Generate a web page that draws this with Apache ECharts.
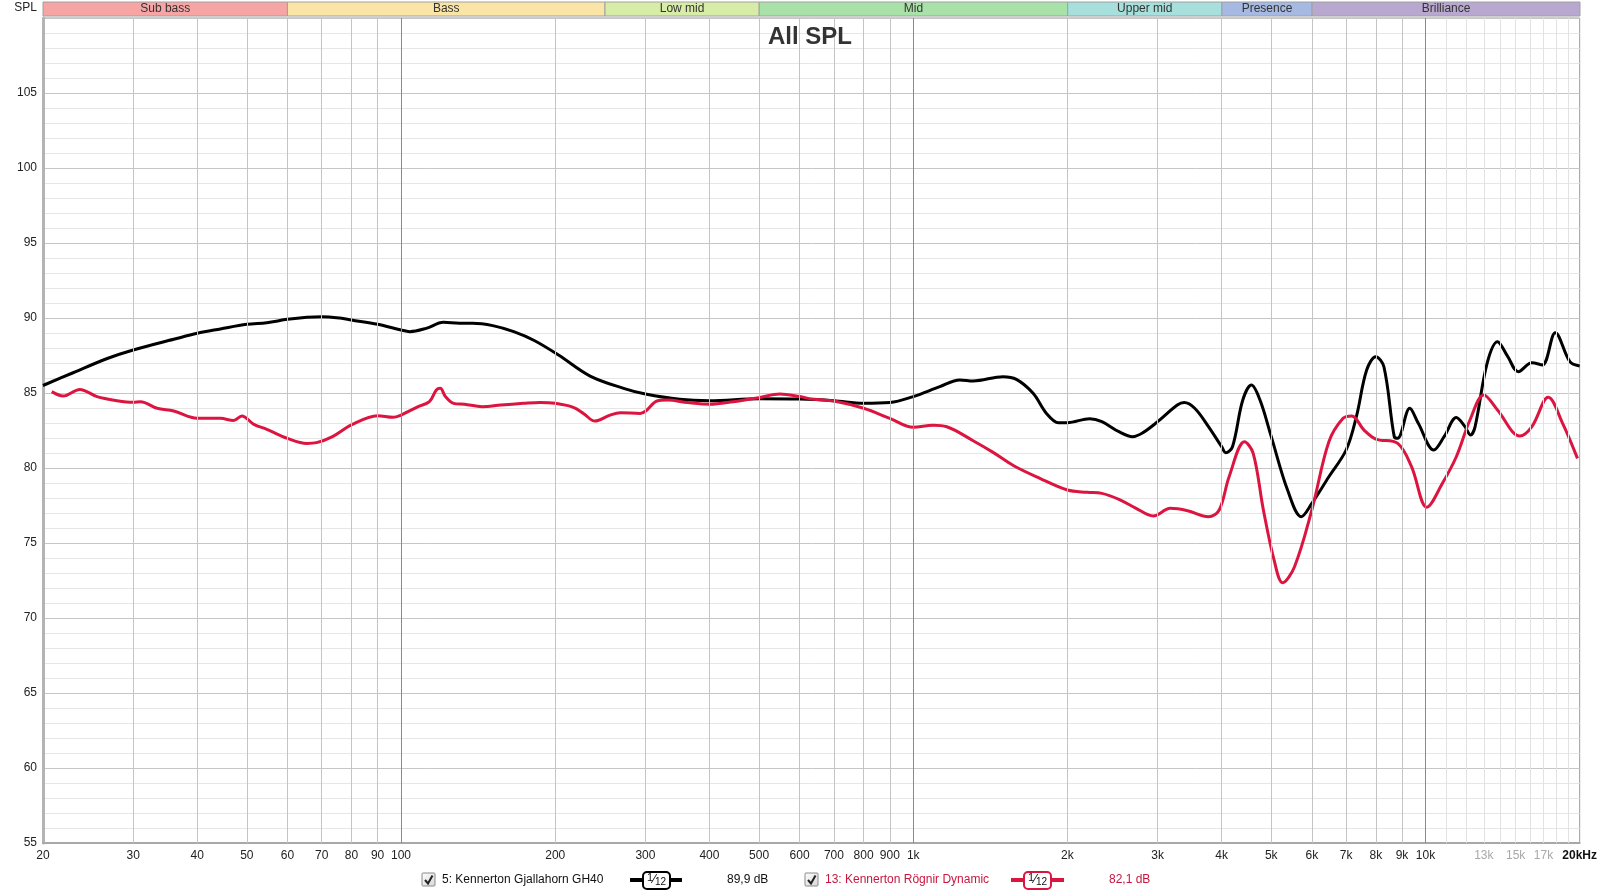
<!DOCTYPE html>
<html>
<head>
<meta charset="utf-8">
<script src="https://cdn.jsdelivr.net/npm/echarts@6/dist/echarts.min.js"></script>
<style>html,body{margin:0;padding:0;background:#fff}#c{width:1600px;height:895px}</style>
</head>
<body>
<div id="c"></div>
<script>
// ---- data ----
const gh40Freq = [20,22.9,26.7,30,36,40,44.4,50,54.7,60,65.5,70,76,80,90,100,104,112,121,130,138,151,166,182,203,234,272,300,350,400,500,600,700,800,900,1000,1127,1233,1309,1497,1590,1714,1820,1920,2000,2210,2335,2521,2682,2809,3000,3278,3381,3544,3770,4000,4074,4200,4399,4574,4753,5000,5380,5723,6000,6478,7000,7330,7677,8000,8296,8691,8826,9318,9683,10383,10874,11487,11940,12250,12500,13193,13823,14479,15175,16136,16912,17927,19137,20000];
const gh40Spl = [85.5,86.35,87.3,87.87,88.58,88.98,89.27,89.58,89.69,89.91,90.05,90.09,90.0,89.87,89.58,89.2,89.09,89.31,89.71,89.65,89.65,89.49,89.09,88.5,87.53,86.13,85.31,84.93,84.58,84.49,84.62,84.6,84.49,84.31,84.36,84.76,85.42,85.87,85.8,86.09,85.91,84.98,83.64,83.02,83.02,83.29,83.09,82.42,82.09,82.36,83.09,84.2,84.36,83.98,82.76,81.42,81.02,81.42,84.53,85.53,84.53,82.09,78.53,76.75,77.64,79.42,81.2,83.42,86.53,87.42,86.75,82.09,81.98,83.98,82.98,81.2,82.09,83.36,82.76,82.2,82.76,86.98,88.42,87.42,86.42,87.02,86.87,89.02,87.09,86.8];

const rognirFreq = [20.8,21.9,23.6,25.5,27.9,30,31,33.4,36,40,44.4,47.1,48.9,51.6,54.7,60,65.5,68.4,73.5,80,90,96.5,100,108,113.6,117.2,119.3,122.1,126.6,133,144,156.6,173.5,186.7,200,217,227,239,256,268,293,301,316,331,363,400,445,500,549,600,638,700,800,900,1000,1093,1163,1309,1432,1571,1767,2000,2186,2335,2521,2723,2943,3177,3432,3770,3957,4137,4433,4610,4826,5063,5262,5551,6000,6478,6905,7180,7587,8000,8826,9393,10062,10792,11487,12215,13000,13823,15290,16136,17366,18526,19805];
const rognirSpl = [85.09,84.8,85.24,84.76,84.49,84.38,84.42,83.98,83.8,83.31,83.31,83.16,83.47,82.91,82.58,81.98,81.64,81.69,82.09,82.87,83.49,83.38,83.53,84.09,84.42,85.2,85.31,84.76,84.31,84.25,84.09,84.2,84.31,84.37,84.31,84.04,83.64,83.13,83.53,83.69,83.64,83.82,84.47,84.53,84.36,84.25,84.42,84.69,84.93,84.76,84.58,84.47,83.98,83.31,82.71,82.85,82.75,81.82,81.04,80.15,79.31,78.53,78.38,78.31,77.91,77.31,76.8,77.31,77.15,76.75,77.2,79.42,81.75,80.98,77.2,73.87,72.35,73.42,77.2,81.75,83.31,83.47,82.53,81.93,81.64,80.09,77.38,78.98,80.75,83.2,84.87,83.87,82.13,82.76,84.71,82.98,80.64];

const seriesNames = ['5: Kennerton Gjallahorn GH40', '13: Kennerton Rögnir Dynamic'];
const seriesLevels = ['89,9 dB', '82,1 dB'];

const bandNames = ['Sub bass','Bass','Low mid','Mid','Upper mid','Presence','Brilliance'];
const bandEdges = [20,60,250,500,2000,4000,6000,20000];

const xTickValues = [20,30,40,50,60,70,80,90,100,200,300,400,500,600,700,800,900,1000,2000,3000,4000,5000,6000,7000,8000,9000,10000,13000,15000,17000,20000];
const xTickLabels = ['20','30','40','50','60','70','80','90','100','200','300','400','500','600','700','800','900','1k','2k','3k','4k','5k','6k','7k','8k','9k','10k','13k','15k','17k','20kHz'];
const xGridDecade = [100,1000,10000];
const xGridNormal = [30,40,50,60,70,80,90,200,300,400,500,600,700,800,900,2000,3000,4000,5000,6000,7000,8000,9000];
const xGridFine = [11000,12000,13000,14000,15000,16000,17000,18000,19000];

// ---- styles ----
const bandColors = ['#f6a4a4','#fae4a6','#d7eca6','#a9e2a9','#a6dfdb','#a5b9e2','#b8a7cf'];
const FONT = '"Liberation Sans", Arial, sans-serif';

const chart = echarts.init(document.getElementById('c'), null, {renderer: 'canvas'});

function pairs(fx, fy) { return fx.map((f, i) => [f, fy[i]]); }

function vline(v, color) {
  return {xAxis: v, lineStyle: {color: color, width: 1, type: 'solid'}};
}
const gridLines = []
  .concat(xGridFine.map(v => vline(v, '#e2e2e2')))
  .concat(xGridNormal.map(v => vline(v, '#c4c4c4')))
  .concat(xGridDecade.map(v => vline(v, '#8a8a8a')));

function legendItem(x0, name, level, color, textColor, boxX, lineX0, lineX1, levelX) {
  const y = 880;
  return [
    {type: 'rect', shape: {x: x0, y: y - 7, width: 13, height: 13, r: 1},
     style: {fill: new echarts.graphic.LinearGradient(0,0,1,1,[{offset:0,color:'#ffffff'},{offset:1,color:'#d6d6d6'}]), stroke: '#8a8a8a', lineWidth: 1}},
    {type: 'polyline', shape: {points: [[x0 + 3, y], [x0 + 6, y + 3.5], [x0 + 10.5, y - 4.5]]},
     style: {stroke: '#222', lineWidth: 2, fill: null}},
    {type: 'text', x: x0 + 20, y: y, style: {text: name, fill: textColor, font: '12px ' + FONT, verticalAlign: 'middle'}},
    {type: 'line', shape: {x1: lineX0, y1: y, x2: lineX1, y2: y}, style: {stroke: color, lineWidth: 4}},
    {type: 'rect', shape: {x: boxX, y: y - 8, width: 27, height: 17, r: 4},
     style: {fill: '#fff', stroke: color, lineWidth: 2}},
    {type: 'text', x: boxX + 13.5, y: y, style: {
      text: '{a|1}{s|⁄}{b|12}', align: 'center', verticalAlign: 'middle', fill: '#111',
      rich: {a: {fontSize: 11, fontFamily: 'Liberation Sans', verticalAlign: 'top', padding: [0,0,4,0]},
             s: {fontSize: 12, fontFamily: 'DejaVu Sans'},
             b: {fontSize: 10, fontFamily: 'Liberation Sans', padding: [4,0,0,0]}}}},
    {type: 'text', x: levelX, y: y, style: {text: level, fill: textColor, font: '12px ' + FONT, verticalAlign: 'middle'}}
  ];
}

const option = {
  backgroundColor: '#ffffff',
  animation: false,
  title: {
    text: 'All SPL', left: 805, top: 20, textAlign: 'center',
    textStyle: {fontFamily: FONT, fontSize: 24, fontWeight: 'bold', color: '#333'}
  },
  grid: [
    {left: 43, right: 20, top: 18, bottom: 52, show: true, borderColor: '#9c9c9c', borderWidth: 1, containLabel: false},
    {left: 43, right: 20, top: 2, height: 14, show: false}
  ],
  xAxis: [
    {
      type: 'log', logBase: 10, min: 20, max: 20000, gridIndex: 0,
      axisLine: {show: true, onZero: false, lineStyle: {color: '#a8a8a8', width: 2}},
      axisTick: {show: false},
      splitLine: {show: false},
      axisLabel: {
        customValues: xTickValues, margin: 7, hideOverlap: false,
        fontFamily: FONT, fontSize: 12, color: '#222',
        formatter: function (v) {
          let best = 0, bd = Infinity;
          for (let i = 0; i < xTickValues.length; i++) {
            const d = Math.abs(Math.log(xTickValues[i]) - Math.log(v));
            if (d < bd) { bd = d; best = i; }
          }
          const val = xTickValues[best], lab = xTickLabels[best];
          if (val === 13000 || val === 15000 || val === 17000) return '{g|' + lab + '}';
          if (val === 20000) return '{b|' + lab + '}';
          return lab;
        },
        rich: {g: {color: '#a8a8a8', fontSize: 12, fontFamily: FONT},
               b: {color: '#111', fontSize: 12, fontWeight: 'bold', fontFamily: FONT}}
      }
    },
    {type: 'log', logBase: 10, min: 20, max: 20000, gridIndex: 1, show: false, splitLine: {show: false}}
  ],
  yAxis: [
    {
      type: 'value', min: 55, max: 110, interval: 5, gridIndex: 0,
      name: 'SPL', nameLocation: 'end', nameGap: 4,
      nameTextStyle: {fontFamily: FONT, fontSize: 12, color: '#222', align: 'right', padding: [0, 6, 0, 0]},
      axisLine: {show: true, lineStyle: {color: '#b4b4b4', width: 3}},
      axisTick: {show: false},
      axisLabel: {margin: 6, fontFamily: FONT, fontSize: 12, color: '#222',
        formatter: v => (v >= 110 ? '' : String(v))},
      splitLine: {show: true, lineStyle: {color: '#c6c6c6', width: 1}},
      minorTick: {show: false, splitNumber: 5},
      minorSplitLine: {show: true, lineStyle: {color: '#e6e6e6', width: 1}}
    },
    {type: 'value', min: 0, max: 1, gridIndex: 1, show: false, splitLine: {show: false}}
  ],
  series: [
    {
      name: 'grid', type: 'line', xAxisIndex: 0, yAxisIndex: 0, data: [], silent: true, z: 1,
      markLine: {silent: true, symbol: ['none', 'none'], label: {show: false}, animation: false, data: gridLines}
    },
    {
      name: 'bands', type: 'line', xAxisIndex: 1, yAxisIndex: 1, data: [], silent: true,
      markArea: {
        silent: true,
        data: bandNames.map((n, i) => [
          {xAxis: bandEdges[i], name: n,
           itemStyle: {color: bandColors[i], borderColor: '#a0a0a0', borderWidth: 1},
           label: {show: true, position: 'inside', color: '#333', fontSize: 12, fontFamily: FONT}},
          {xAxis: bandEdges[i + 1]}
        ])
      }
    },
    {
      name: seriesNames[0], type: 'line', xAxisIndex: 0, yAxisIndex: 0, z: 3,
      data: pairs(gh40Freq, gh40Spl), showSymbol: false, symbol: 'none', smooth: 0.35,
      lineStyle: {color: '#000000', width: 3}
    },
    {
      name: seriesNames[1], type: 'line', xAxisIndex: 0, yAxisIndex: 0, z: 4,
      data: pairs(rognirFreq, rognirSpl), showSymbol: false, symbol: 'none', smooth: 0.35,
      lineStyle: {color: '#dc1440', width: 3}
    }
  ],
  graphic: [].concat(
    legendItem(422, seriesNames[0], seriesLevels[0], '#000000', '#111111', 643, 630, 682, 727),
    legendItem(805, seriesNames[1], seriesLevels[1], '#dc1440', '#c8163e', 1024, 1011, 1064, 1109)
  )
};
chart.setOption(option);
</script>
</body>
</html>
